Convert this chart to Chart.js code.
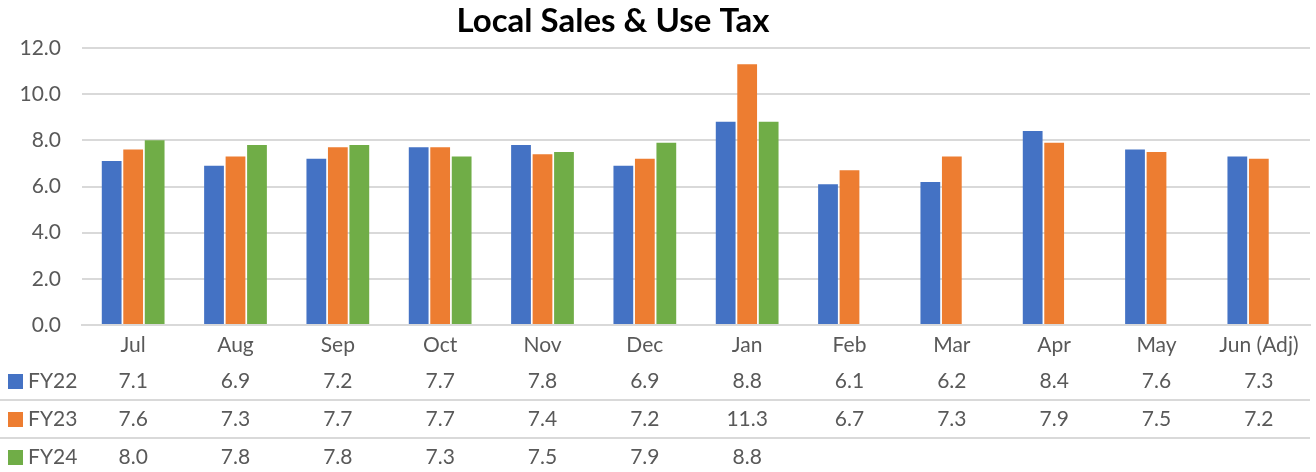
<!DOCTYPE html>
<html>
<head>
<meta charset="utf-8">
<script src="https://cdn.jsdelivr.net/npm/chart.js@4/dist/chart.umd.min.js"></script>
<style>
  html, body { margin: 0; padding: 0; background: #fff; }
  #wrap { width: 1316px; height: 472px; }
</style>
</head>
<body>
<div id="wrap"><canvas id="chart" width="1316" height="472"></canvas></div>
<script>
const months = ['Jul', 'Aug', 'Sep', 'Oct', 'Nov', 'Dec', 'Jan', 'Feb', 'Mar', 'Apr', 'May', 'Jun (Adj)'];
const fy22 = [7.1, 6.9, 7.2, 7.7, 7.8, 6.9, 8.8, 6.1, 6.2, 8.4, 7.6, 7.3];
const fy23 = [7.6, 7.3, 7.7, 7.7, 7.4, 7.2, 11.3, 6.7, 7.3, 7.9, 7.5, 7.2];
const fy24 = [8.0, 7.8, 7.8, 7.3, 7.5, 7.9, 8.8, null, null, null, null, null];
const seriesNames = ['FY22', 'FY23', 'FY24'];
const seriesColors = ['#4472C4', '#ED7D31', '#70AD47'];

const FONT = 'Lato, Calibri, "Open Sans", sans-serif';
const TEXT = '#595959';
const GRID = '#d9d9d9';

// title + data table under the x axis
const tablePlugin = {
    id: 'dataTable',
    afterDraw(chart) {
        const ctx = chart.ctx;
        const x = chart.scales.x;
        const rows = [fy22, fy23, fy24];
        const rowY = [381, 419, 457];

        ctx.save();
        ctx.fillStyle = '#000';
        ctx.font = 'bold 33px ' + FONT;
        ctx.textAlign = 'center';
        ctx.textBaseline = 'middle';
        ctx.fillText('Local Sales & Use Tax', 613, 21);

        ctx.strokeStyle = GRID;
        ctx.lineWidth = 2;
        [400, 438].forEach(y => {
            ctx.beginPath();
            ctx.moveTo(0, y);
            ctx.lineTo(chart.chartArea.right, y);
            ctx.stroke();
        });

        ctx.font = '21px ' + FONT;
        rows.forEach((row, r) => {
            ctx.fillStyle = seriesColors[r];
            ctx.fillRect(8, rowY[r] - 7, 15, 15);
            ctx.fillStyle = TEXT;
            ctx.textAlign = 'left';
            ctx.fillText(seriesNames[r], 28, rowY[r]);
            ctx.textAlign = 'center';
            row.forEach((v, i) => {
                if (v === null) return;
                ctx.fillText(v.toFixed(1), x.getPixelForValue(i), rowY[r]);
            });
        });
        ctx.restore();
    }
};

new Chart(document.getElementById('chart'), {
    type: 'bar',
    data: {
        labels: months,
        datasets: [fy22, fy23, fy24].map((d, i) => ({
            label: seriesNames[i],
            data: d,
            backgroundColor: seriesColors[i],
            borderWidth: 0,
            categoryPercentage: 0.63,
            barPercentage: 0.92
        }))
    },
    options: {
        responsive: false,
        animation: false,
        layout: { padding: { top: 48, right: 6, left: 0, bottom: 0 } },
        plugins: {
            legend: { display: false },
            title: { display: false },
            tooltip: { enabled: false }
        },
        scales: {
            x: {
                grid: { display: false },
                border: { color: GRID, width: 2 },
                ticks: { color: TEXT, font: { family: FONT, size: 21 }, padding: 0, maxRotation: 0 },
                afterFit(scale) { scale.height = 147; }
            },
            y: {
                min: 0,
                max: 12,
                grid: { color: GRID, lineWidth: 2, drawTicks: false },
                border: { display: false },
                ticks: {
                    stepSize: 2,
                    color: TEXT,
                    font: { family: FONT, size: 21 },
                    padding: 21,
                    callback: v => v.toFixed(1)
                },
                afterFit(scale) { scale.width = 82; }
            }
        }
    },
    plugins: [tablePlugin]
});
</script>
</body>
</html>
